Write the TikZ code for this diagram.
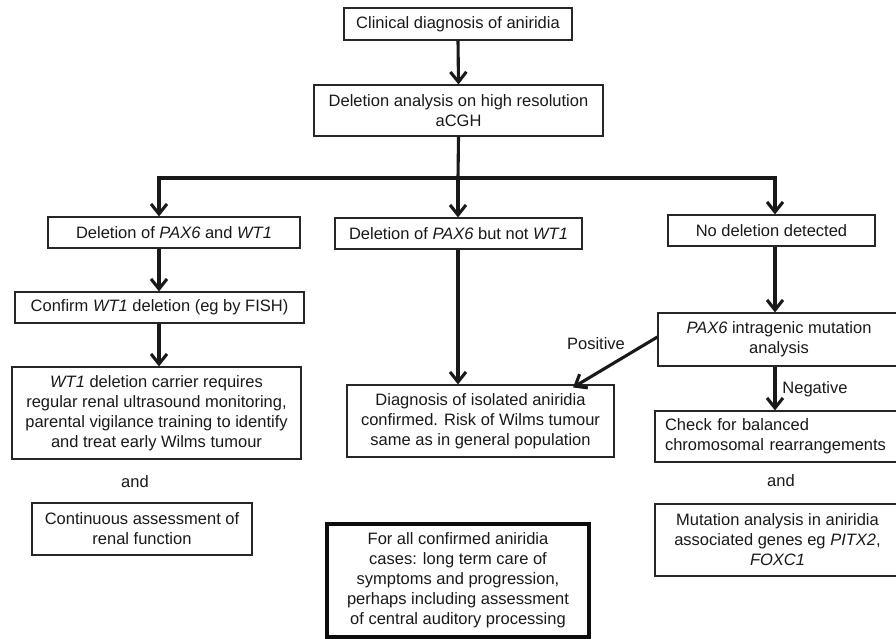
\documentclass[tikz,border=0pt]{standalone}
\usepackage{fontspec}
\setmainfont{Liberation Sans}
\usetikzlibrary{arrows.meta}
\begin{document}
\begin{tikzpicture}[x=1pt,y=-1pt,
 box/.style={draw=black!85, line width=1.2pt, rectangle, inner sep=0pt, align=center, font=\fontsize{16.5}{20}\selectfont, text=black!90},
 arr/.style={line width=3.1pt, line join=miter, draw=black!90, -{Straight Barb[length=10pt,width=16pt,line width=3.1pt]}},
 lab/.style={font=\fontsize{16.5}{20}\selectfont, inner sep=0pt, text=black!90}]
\useasboundingbox (0,0) rectangle (896,638);

\node[box, minimum width=228pt, minimum height=32pt] (n1) at (458,24) {Clinical diagnosis of aniridia};
\node[box, minimum width=289pt, minimum height=51pt] (n2) at (458.5,110.5) {Deletion analysis on high resolution\\aCGH};

\node[box, minimum width=252pt, minimum height=31pt] (b1) at (174,232.5) {Deletion of \textit{PAX6} and \textit{WT1}};
\node[box, minimum width=247pt, minimum height=31pt] (b2) at (458.5,233.5) {Deletion of \textit{PAX6} but not \textit{WT1}};
\node[box, minimum width=207pt, minimum height=31pt] (b3) at (771.5,230.5) {No deletion detected};

\node[box, minimum width=289pt, minimum height=31pt] (c1) at (159.5,307.5) {Confirm \textit{WT1} deletion (eg by FISH)};
\node[box, minimum width=289pt, minimum height=92pt] (c2) at (156.5,413) {\textit{WT1} deletion carrier requires\\regular renal ultrasound monitoring,\\parental vigilance training to identify\\and treat early Wilms tumour};
\node[lab] (and1) at (135,482) {and};
\node[box, minimum width=220pt, minimum height=52pt] (c3) at (142,529) {Continuous assessment of\\renal function};

\node[box, minimum width=267pt, minimum height=72pt] (d1) at (480.5,421) {Diagnosis of isolated aniridia\\confirmed. Risk of Wilms tumour\\same as in general population};

\node[box, minimum width=242pt, minimum height=53pt] (r1) at (779,339.5) {\textit{PAX6} intragenic mutation\\analysis};
\node[box, text width=225pt, inner xsep=10pt, align=left, minimum height=51pt] (r2) at (777.5,436.5) {Check for balanced\\chromosomal rearrangements};
\node[lab] (and2) at (781,481) {and};
\node[box, minimum width=245pt, minimum height=72pt] (r3) at (777.5,540) {Mutation analysis in aniridia\\associated genes eg \textit{PITX2},\\\textit{FOXC1}};

\node[box, line width=3.8pt, draw=black!95, minimum width=262pt, minimum height=113pt] (f1) at (458,580.5) {For all confirmed aniridia\\cases: long term care of\\symptoms and progression,\\perhaps including assessment\\of central auditory processing};

\coordinate (sp) at (458,178);
\coordinate (spL) at (159,178);
\coordinate (spR) at (775,178);

\draw[arr] (n1.south) -- (n2.north);
\draw[line width=3.1pt, draw=black!90] (n2.south) -- (sp);
\draw[arr] (sp) -- (sp |- b2.north);
\draw[arr] (sp) -- (spL) -- (spL |- b1.north);
\draw[arr] (sp) -- (spR) -- (spR |- b3.north);

\draw[arr] (spL |- b1.south) -- (spL |- c1.north);
\draw[arr] (spL |- c1.south) -- (spL |- c2.north);

\draw[arr] (sp |- b2.south) -- (sp |- d1.north);

\draw[arr] (spR |- b3.south) -- (spR |- r1.north);
\draw[arr] ([yshift=2.5pt]r1.west) -- ([xshift=92.5pt,yshift=-3pt]d1.north);
\node[lab] (pos) at (596,344) {Positive};
\draw[arr] (spR |- r1.south) -- (spR |- r2.north);
\node[lab] (neg) at (815,389) {Negative};
\end{tikzpicture}
\end{document}
